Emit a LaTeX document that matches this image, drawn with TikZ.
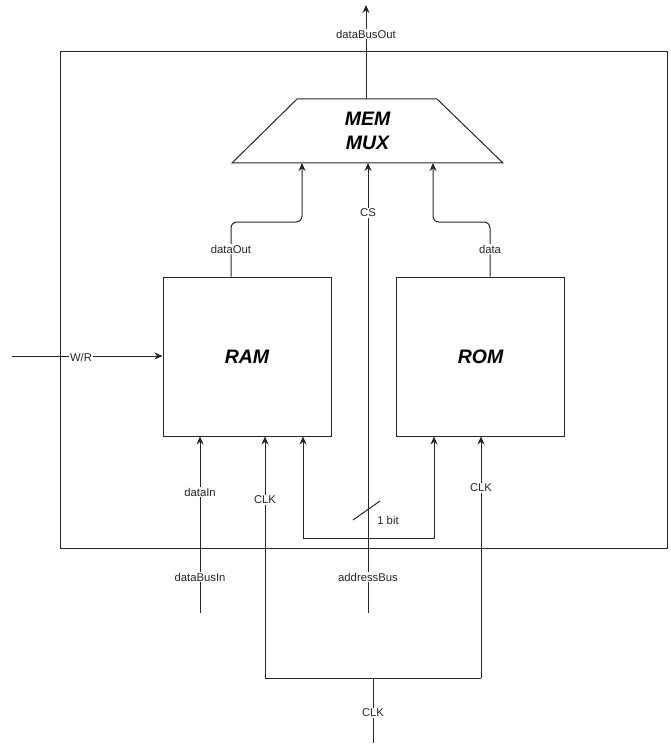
\documentclass[tikz,border=0pt]{standalone}
\usepackage{fontspec}
\setmainfont{Liberation Sans}
\usetikzlibrary{arrows.meta}
\begin{document}
\begin{tikzpicture}[x=1pt,y=-1pt,
  wire/.style={draw=black!85,line width=1pt},
  arr/.style={wire,-{Stealth[length=8pt,width=7pt]}},
  lbl/.style={fill=white,inner sep=1pt,font=\fontsize{11.3}{13}\selectfont,text=black!85},
  block/.style={draw=black!85,line width=1pt,minimum width=168pt,minimum height=159pt,font=\fontsize{19.5}{23}\selectfont\bfseries\itshape}]
\useasboundingbox (0,0) rectangle (670,746);
% frame
\draw[wire] (60,52) rectangle (667,548);
% mux
\draw[wire,fill=white] (232,163) -- (297,99) -- (437,99) -- (503,163) -- cycle;
\node[font=\fontsize{19.5}{24}\selectfont\bfseries\itshape,align=center] (mux) at (367.5,131) {MEM\\MUX};
\coordinate (muxtop) at (366,99);
\coordinate (muxA) at (302,163);
\coordinate (muxS) at (368,163);
\coordinate (muxB) at (433,163);
\coordinate (outEnd) at (366,5);
\draw[arr] (muxtop) -- node[lbl,pos=0.69]{dataBusOut} (outEnd);
% blocks
\node[block] (ram) at (247,356.5) {RAM};
\node[block] (rom) at (480.5,356.5) {ROM};
% dataOut
\draw[arr,rounded corners=6pt] (ram.north -| 231,0) -- node[lbl,pos=0.5]{dataOut} (231,222) -- (302,222) -- (muxA);
% data
\draw[arr,rounded corners=6pt] (rom.north -| 490,0) -- node[lbl,pos=0.5]{data} (490,222) -- (433,222) -- (muxB);
% CS / addressBus
\coordinate (addrStart) at (368,613);
\draw[arr] (addrStart) -- (muxS);
\node[lbl] (cs) at (368,213) {CS};
\node[lbl] (ab) at (368,577) {addressBus};
% W/R
\coordinate (wrStart) at (12,356);
\draw[arr] (wrStart) -- (ram.west |- 0,356);
\node[lbl] (wr) at (81,357) {W/R};
% dataIn
\coordinate (dinStart) at (200,613);
\draw[arr] (dinStart) -- (ram.south -| 200,0);
\node[lbl] (din) at (200,492) {dataIn};
\node[lbl] (dbin) at (200,577) {dataBusIn};
% clocks
\coordinate (clkL) at (265,678);
\coordinate (clkR) at (481,678);
\coordinate (clkM) at (373,678);
\coordinate (clkEnd) at (373,743);
\draw[arr] (clkL) -- (ram.south -| 265,0);
\draw[arr] (clkR) -- (rom.south -| 481,0);
\draw[wire] (clkL) -- (clkR);
\draw[wire] (clkM) -- (clkEnd);
\node[lbl] (clk1) at (265,500) {CLK};
\node[lbl] (clk2) at (481,488) {CLK};
\node[lbl] (clk3) at (373,713) {CLK};
% 1 bit address
\coordinate (bL) at (303,538);
\coordinate (bR) at (434,538);
\draw[arr] (bL) -- (ram.south -| 303,0);
\draw[arr] (bL) -- (bR) -- (rom.south -| 434,0);
\draw[wire] (353,520) -- (380,501);
\node[lbl,fill=none] (bit) at (388,520) {1 bit};
\end{tikzpicture}
\end{document}
